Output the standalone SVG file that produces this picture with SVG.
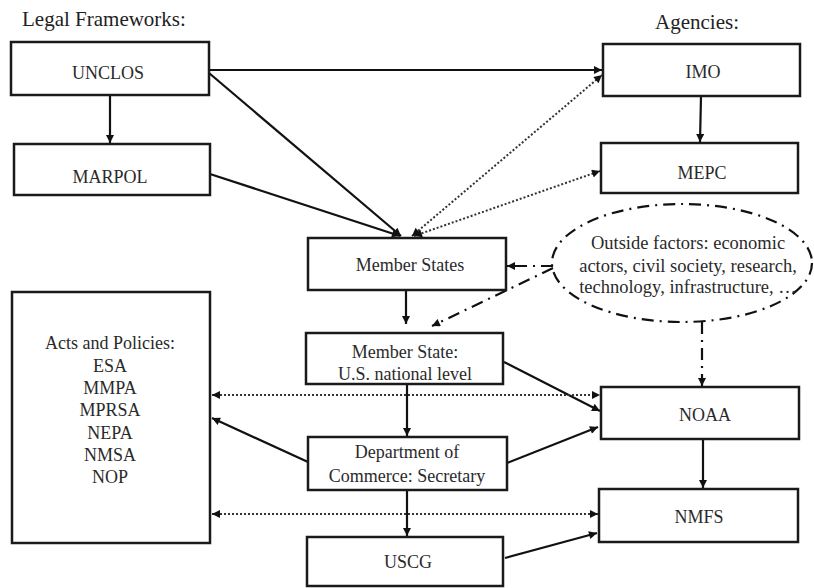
<svg xmlns="http://www.w3.org/2000/svg" width="814" height="588" viewBox="0 0 814 588">
<defs>
<marker id="ah" viewBox="0 0 10 10" refX="10" refY="5" markerWidth="9" markerHeight="8" markerUnits="userSpaceOnUse" orient="auto-start-reverse">
<path d="M0,0 L10,5 L0,10 z" fill="#111"/>
</marker>
</defs>
<style>
text{font-family:"Liberation Serif","Times New Roman",serif;font-size:18px;fill:#2a2a2a;text-anchor:middle}
.hdr{font-size:21px;fill:#222}
.ell{font-size:18.5px}
.box{fill:#fff;stroke:#1a1a1a;stroke-width:2.5}
.sol{fill:none;stroke:#111;stroke-width:2.2;marker-end:url(#ah)}
.dot{fill:none;stroke:#333;stroke-width:2;stroke-dasharray:2,2}
.dd{fill:none;stroke:#111;stroke-width:2.2;stroke-dasharray:12,6,2,6}
</style>
<rect width="814" height="588" fill="#fff"/>
<text class="hdr" x="22" y="26" style="text-anchor:start">Legal Frameworks:</text>
<text class="hdr" x="697" y="29">Agencies:</text>

<g id="connectors">
<path class="sol" d="M110,95 L110,143"/>
<path class="sol" d="M209,70 L602,70"/>
<path class="sol" d="M701,96 L700,142"/>
<path class="sol" d="M209,73 L401,236"/>
<path class="sol" d="M210,174 L400,236"/>
<path class="dot" marker-start="url(#ah)" marker-end="url(#ah)" d="M412,236 L602,75"/>
<path class="dot" marker-start="url(#ah)" marker-end="url(#ah)" d="M414,236 L600,171"/>
<path class="sol" d="M406,290 L406,324"/>
<path class="sol" d="M407,384 L407,436"/>
<path class="sol" d="M407,490 L407,536"/>
<path class="sol" d="M504,362 L600,411"/>
<path class="sol" d="M507,463 L598,427"/>
<path class="sol" d="M505,558 L597,533"/>
<path class="sol" d="M308,462 L212,418"/>
<path class="sol" d="M703,439 L703,488"/>
<path class="dot" marker-start="url(#ah)" marker-end="url(#ah)" d="M212,395 L600,395"/>
<path class="dot" marker-start="url(#ah)" marker-end="url(#ah)" d="M212,514 L598,514"/>
<path class="dd" marker-end="url(#ah)" d="M553,266 L507,266"/>
<path class="dd" marker-end="url(#ah)" d="M553,268 L432,326"/>
<path class="dd" marker-end="url(#ah)" d="M702,322 L702,386"/>
</g>

<g id="unclos"><rect class="box" x="11" y="42" width="198" height="53"/><text x="108" y="79">UNCLOS</text></g>
<g id="marpol"><rect class="box" x="14" y="144" width="196" height="51"/><text x="110" y="183">MARPOL</text></g>
<g id="imo"><rect class="box" x="603" y="44" width="197" height="52"/><text x="703" y="78">IMO</text></g>
<g id="mepc"><rect class="box" x="601" y="143" width="197" height="50"/><text x="702" y="179">MEPC</text></g>
<g id="member-states"><rect class="box" x="308" y="238" width="198" height="52"/><text x="410" y="271">Member States</text></g>
<g id="outside-factors"><ellipse cx="682" cy="263" rx="130" ry="59" fill="none" class="dd" style="marker-end:none"/>
<text class="ell" x="688" y="249">Outside factors: economic</text>
<text class="ell" x="688" y="272">actors, civil society, research,</text>
<text class="ell" x="688" y="293">technology, infrastructure, …</text></g>
<g id="us-level"><rect class="box" x="306" y="333" width="197" height="51"/><text x="405" y="358">Member State:</text><text x="405" y="380">U.S. national level</text></g>
<g id="acts"><rect class="box" x="12" y="292" width="198" height="251"/>
<text x="110" y="349">Acts and Policies:</text>
<text x="110" y="372">ESA</text>
<text x="110" y="394">MMPA</text>
<text x="110" y="416">MPRSA</text>
<text x="110" y="439">NEPA</text>
<text x="110" y="461">NMSA</text>
<text x="110" y="483">NOP</text></g>
<g id="commerce"><rect class="box" x="308" y="437" width="199" height="53"/><text x="407" y="458">Department of</text><text x="407" y="482">Commerce: Secretary</text></g>
<g id="noaa"><rect class="box" x="601" y="387" width="198" height="52"/><text x="705" y="421">NOAA</text></g>
<g id="nmfs"><rect class="box" x="599" y="489" width="199" height="53"/><text x="699" y="523">NMFS</text></g>
<g id="uscg"><rect class="box" x="307" y="537" width="196" height="49"/><text x="408" y="568">USCG</text></g>
</svg>
